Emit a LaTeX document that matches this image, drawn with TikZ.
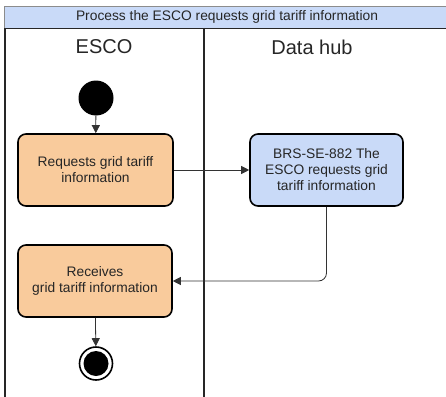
\documentclass[tikz,border=0pt]{standalone}
\usepackage{fontspec}
\setmainfont{Liberation Sans}
\usetikzlibrary{arrows.meta}
\definecolor{orangefill}{HTML}{F9CB9C}
\definecolor{bluefill}{HTML}{C9DAF8}
\definecolor{conn}{HTML}{333333}
\begin{document}
\begin{tikzpicture}[x=1pt,y=-1pt,
  actbox/.style={draw=black, line width=1.6pt, rounded corners=8pt, minimum width=155pt, minimum height=72pt, align=center, font=\fontsize{13.8}{16}\selectfont, text=black!85},
  flow/.style={draw=conn, line width=0.8pt, -{Triangle[length=8pt,width=8pt]}},
  lane/.style={draw=black!85, line width=1.6pt},
  hdr/.style={font=\fontsize{20}{24}\selectfont, text=black!85}]
\useasboundingbox (0,0) rectangle (446,396);
% title bar
\fill[bluefill] (4,6) rectangle (447,28);
\draw[black!45, line width=0.8pt] (4,28) -- (4,6) -- (447,6);
\draw[black!85, line width=1.6pt] (4,28.5) -- (447,28.5);
\node[font=\fontsize{13.8}{16}\selectfont, text=black!85] (title) at (227,17) {Process the ESCO requests grid tariff information};
% lanes
\draw[lane] (5,28) -- (5,397);
\draw[lane] (204,28) -- (204,397);
\node[hdr] (h1) at (104,47) {ESCO};
\node[hdr] (h2) at (312,47) {Data hub};
% nodes
\node[circle, fill=black, minimum size=35pt, inner sep=0pt] (start) at (96,98) {};
\node[actbox, fill=orangefill] (b1) at (95.5,170) {Requests grid tariff\\information};
\node[actbox, fill=bluefill, minimum width=153pt] (b2) at (326.5,170) {BRS-SE-882 The\\ESCO requests grid\\tariff information};
\node[actbox, fill=orangefill, minimum width=154pt] (b3) at (95,281) {Receives\\grid tariff information};
\node[circle, draw=black, line width=1.6pt, fill=white, minimum size=33pt, inner sep=0pt] (end) at (96,363.5) {};
\node[circle, fill=black, minimum size=25pt, inner sep=0pt] (endin) at (96,363.5) {};
% connectors
\draw[flow] (start) -- (b1);
\draw[flow] (b1) -- (b2);
\draw[flow, rounded corners=8pt] (b2.south) |- (b3.east);
\draw[flow] (b3) -- (end);
\end{tikzpicture}
\end{document}
